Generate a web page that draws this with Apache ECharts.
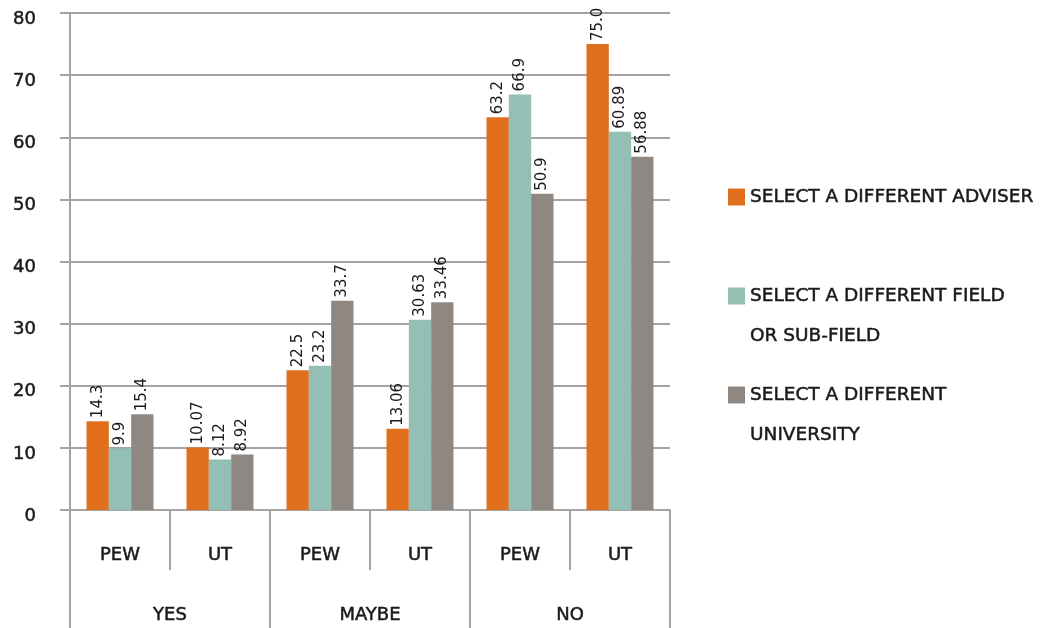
<!DOCTYPE html>
<html>
<head>
<meta charset="utf-8">
<script src="https://cdn.jsdelivr.net/npm/echarts@6/dist/echarts.min.js"></script>
<style>
  html, body { margin: 0; padding: 0; background: #fff; }
  #chart { width: 1047px; height: 628px; }
</style>
</head>
<body>
<div id="chart"></div>
<script>
// sub categories (source) and answer groups
const sources = ['PEW', 'UT', 'PEW', 'UT', 'PEW', 'UT'];
const answers = ['YES', 'MAYBE', 'NO'];
const yTicks = [0, 10, 20, 30, 40, 50, 60, 70, 80];

const adviser = [14.3, 10.07, 22.5, 13.06, 63.2, 75.0];
const field = [9.9, 8.12, 23.2, 30.63, 66.9, 60.89];
const university = [15.4, 8.92, 33.7, 33.46, 50.9, 56.88];

const seriesNames = [
  'SELECT A DIFFERENT ADVISER',
  'SELECT A DIFFERENT FIELD\nOR SUB-FIELD',
  'SELECT A DIFFERENT\nUNIVERSITY'
];
const colors = ['#e06f1e', '#94bfb4', '#8f8782'];

const lineGray = '#a3a3a3';
const textColor = '#1a1a1a';
const font = 'DejaVu Sans';
// slightly heavier strokes than the regular face
const heavy = { textBorderColor: textColor, textBorderWidth: 0.5 };

const fmt = v => (Number.isInteger(v) ? v.toFixed(1) : String(v));

function makeBar(name, data, color) {
  return {
    name: name,
    type: 'bar',
    data: data,
    barGap: '0%',
    barCategoryGap: '33%',
    itemStyle: { color: color },
    label: {
      show: true,
      position: 'top',
      rotate: 90,
      align: 'left',
      verticalAlign: 'middle',
      distance: 3,
      fontFamily: font,
      fontSize: 15,
      color: textColor,
      formatter: p => fmt(p.value)
    }
  };
}

// icon sits on the first line: a blank line above keeps line 1 in the middle
function makeLegend(name, top) {
  return {
    data: [name],
    left: 728,
    top: top,
    padding: 0,
    orient: 'vertical',
    icon: 'rect',
    itemWidth: 17,
    itemHeight: 17,
    itemGap: 0,
    formatter: n => (n.indexOf('\n') >= 0 ? ' \n' + n : n),
    textStyle: Object.assign({
      fontFamily: font,
      fontSize: 18.5,
      color: textColor,
      lineHeight: 40
    }, heavy)
  };
}

const chart = echarts.init(document.getElementById('chart'));
chart.setOption({
  backgroundColor: '#fff',
  animation: false,
  color: colors,
  legend: [
    makeLegend(seriesNames[0], 177),
    makeLegend(seriesNames[1], 236),
    makeLegend(seriesNames[2], 335)
  ],
  grid: { left: 70, right: 377, top: 13, bottom: 118, containLabel: false },
  xAxis: [
    {
      type: 'category',
      data: sources,
      position: 'bottom',
      axisLine: { show: true, lineStyle: { color: lineGray, width: 2 } },
      axisTick: { show: true, length: 60, lineStyle: { color: lineGray, width: 2 } },
      axisLabel: Object.assign({ margin: 36, fontFamily: font, fontSize: 18, color: textColor }, heavy)
    },
    {
      type: 'category',
      data: answers,
      position: 'bottom',
      axisLine: { show: false },
      axisTick: { show: true, length: 118, lineStyle: { color: lineGray, width: 2 } },
      axisLabel: Object.assign({ margin: 96, fontFamily: font, fontSize: 18, color: textColor }, heavy)
    }
  ],
  yAxis: {
    type: 'value',
    min: yTicks[0],
    max: yTicks[yTicks.length - 1],
    interval: 10,
    axisLine: { show: true, lineStyle: { color: lineGray, width: 2 } },
    axisTick: { show: true, length: 10, lineStyle: { color: lineGray, width: 2 } },
    splitLine: { show: true, lineStyle: { color: lineGray, width: 2 } },
    axisLabel: {
      margin: 34,
      formatter: v => '{v|' + v + '}',
      rich: {
        v: Object.assign({
          fontFamily: font,
          fontSize: 18,
          color: textColor,
          padding: [12, 0, 0, 0]
        }, heavy)
      }
    }
  },
  series: [
    makeBar(seriesNames[0], adviser, colors[0]),
    makeBar(seriesNames[1], field, colors[1]),
    makeBar(seriesNames[2], university, colors[2])
  ]
});

window.addEventListener('resize', () => {
  chart.resize();
});
</script>
</body>
</html>
